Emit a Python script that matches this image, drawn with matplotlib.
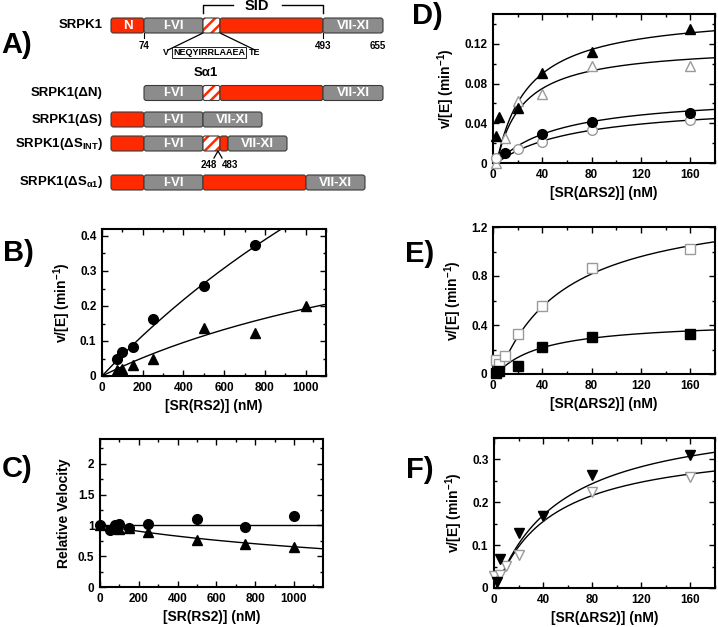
import matplotlib.pyplot as plt
import numpy as np
from matplotlib.patches import FancyBboxPatch
from matplotlib.ticker import MultipleLocator, FuncFormatter

plt.rcParams['font.family'] = ['Liberation Sans', 'DejaVu Sans']
plt.rcParams['font.weight'] = 'bold'
plt.rcParams['axes.labelweight'] = 'bold'
plt.rcParams['mathtext.fontset'] = 'custom'
plt.rcParams['mathtext.rm'] = 'Liberation Sans:bold'
plt.rcParams['mathtext.it'] = 'Liberation Sans:bold'
plt.rcParams['mathtext.bf'] = 'Liberation Sans:bold'
plt.rcParams['hatch.linewidth'] = 1.8

RED = '#ff2a00'
GRAY = '#8c8c8c'
EDGE = '#3a3a3a'
OPEN = '#9a9a9a'

# ---------------- data ----------------
# panel A: constructs and their domain segments (kind, schematic width, label)
constructs = ['SRPK1', 'SRPK1(ΔN)', 'SRPK1(ΔS)',
              'SRPK1(ΔS$_{INT}$)', 'SRPK1(ΔS$_{α1}$)']
construct_segments = [
    [('red', 33, 'N'), ('gray', 59, 'I-VI'), ('hatch', 17, ''), ('red', 103, ''), ('gray', 60, 'VII-XI')],
    [('gray', 59, 'I-VI'), ('hatch', 17, ''), ('red', 103, ''), ('gray', 60, 'VII-XI')],
    [('red', 33, ''), ('gray', 59, 'I-VI'), ('gray', 59, 'VII-XI')],
    [('red', 33, ''), ('gray', 59, 'I-VI'), ('hatch', 17, ''), ('red', 8, ''), ('gray', 59, 'VII-XI')],
    [('red', 33, ''), ('gray', 59, 'I-VI'), ('red', 103, ''), ('gray', 59, 'VII-XI')],
]
residue_marks = ['74', '493', '655']
int_marks = ['248', '483']
helix_seq = 'NEQYIRRLAAEA'

# panel B: v/[E] vs [SR(RS2)]
b_circ_x = [75, 100, 150, 250, 500, 750]
b_circ_y = [0.050, 0.068, 0.083, 0.162, 0.258, 0.375]
b_tri_x = [75, 100, 150, 250, 500, 750, 1000]
b_tri_y = [0.018, 0.020, 0.032, 0.048, 0.138, 0.122, 0.200]
b_fit = {'circ': (1.85, 3000.0), 'tri': (0.589, 2060.0)}   # (Vmax, Km)

# panel C: relative velocity
c_circ_x = [0, 50, 75, 100, 150, 250, 500, 750, 1000]
c_circ_y = [1.00, 0.93, 1.00, 1.02, 0.95, 1.02, 1.10, 0.97, 1.15]
c_tri_x = [0, 75, 100, 150, 250, 500, 750, 1000]
c_tri_y = [1.00, 0.95, 0.94, 0.95, 0.89, 0.77, 0.69, 0.65]
c_ki = 1876.0

# panels D-F: v/[E] vs [SR(dRS2)]
d_ftri_x = [2.5, 5, 20, 40, 80, 160]
d_ftri_y = [0.027, 0.046, 0.055, 0.091, 0.112, 0.135]
d_otri_x = [2.5, 10, 20, 40, 80, 160]
d_otri_y = [0.000, 0.025, 0.062, 0.069, 0.098, 0.098]
d_fcir_x = [10, 40, 80, 160]
d_fcir_y = [0.010, 0.029, 0.041, 0.050]
d_ocir_x = [2.5, 20, 40, 80, 160]
d_ocir_y = [0.005, 0.014, 0.021, 0.033, 0.043]
d_fits = [(0.1525, 25.7, 3), (0.119, 21.7, 3), (0.0699, 52.2, 3), (0.0614, 66.2, 3)]

e_osq_x = [2.5, 5, 10, 20, 40, 80, 160]
e_osq_y = [0.114, 0.082, 0.147, 0.327, 0.558, 0.868, 1.018]
e_fsq_x = [2.5, 5, 20, 40, 80, 160]
e_fsq_y = [0.012, 0.027, 0.068, 0.223, 0.305, 0.327]
e_fits = [(1.422, 55.5, 5), (0.438, 38.4, 3)]

f_fdn_x = [2.5, 5, 20, 40, 80, 160]
f_fdn_y = [0.013, 0.067, 0.128, 0.167, 0.264, 0.311]
f_odn_x = [0, 5, 10, 20, 40, 80, 160]
f_odn_y = [0.027, 0.031, 0.051, 0.078, 0.167, 0.225, 0.260]
f_fits = [(0.414, 54.6, 2), (0.344, 46.3, 2)]

W, H = 718, 627
fig = plt.figure(figsize=(W / 100, H / 100), dpi=100)

# ---------------- panel A ----------------
axa = fig.add_axes([0, 1 - 200 / H, 400 / W, 200 / H])
axa.set_xlim(0, 400)
axa.set_ylim(200, 0)
axa.axis('off')

row_start = [111, 144, 111, 111, 111]
row_y = [25.5, 93, 119.5, 143.5, 182.5]
bar_h = 15
edges = []
for name, segs, x0, yc in zip(constructs, construct_segments, row_start, row_y):
    axa.text(103, yc, name, ha='right', va='center', fontsize=9.5)
    x = x0
    row_edges = [x]
    for kind, w, lab in segs:
        if kind == 'hatch':
            axa.add_patch(FancyBboxPatch((x, yc - bar_h / 2), w, bar_h,
                                         boxstyle='round,pad=0,rounding_size=2',
                                         fc='white', ec=RED, lw=0, hatch='///'))
            axa.add_patch(FancyBboxPatch((x, yc - bar_h / 2), w, bar_h,
                                         boxstyle='round,pad=0,rounding_size=2',
                                         fc='none', ec=EDGE, lw=0.8))
        else:
            axa.add_patch(FancyBboxPatch((x, yc - bar_h / 2), w, bar_h,
                                         boxstyle='round,pad=0,rounding_size=2.5',
                                         fc=RED if kind == 'red' else GRAY, ec=EDGE, lw=0.8))
        if lab:
            axa.text(x + w / 2, yc + 0.5, lab, ha='center', va='center',
                     color='white', fontsize=9.5)
        x += w
        row_edges.append(x)
    edges.append(row_edges)

# residue numbers under full-length SRPK1
top = edges[0]
ybot = row_y[0] + bar_h / 2
for xm, lab in zip([top[1], top[4], top[5] - 5], residue_marks):
    if lab != '655':
        axa.plot([xm, xm], [ybot, ybot + 5], color='black', lw=0.8)
    axa.text(xm, ybot + 13, lab, ha='center', va='center', fontsize=7)

# SID bracket
axa.plot([top[2], top[2], top[2] + 30], [13, 5, 5], color='black', lw=1)
axa.plot([top[4] - 41, top[4], top[4]], [5, 5, 13], color='black', lw=1)
axa.text((top[2] + top[4]) / 2 - 6, 5.5, 'SID', ha='center', va='center', fontsize=10.5)

# helix zoom lines and sequence
axa.plot([top[2], 168], [ybot, 50], color='black', lw=0.9)
axa.plot([top[3], 255], [ybot, 50], color='black', lw=0.9)
axa.text(169, 52.5, 'V', ha='right', va='center', fontsize=6.5)
axa.text(209, 52.5, helix_seq, ha='center', va='center', fontsize=6.5,
         bbox=dict(boxstyle='square,pad=0.15', fc='white', ec='black', lw=0.6))
axa.text(249, 52.5, 'TE', ha='left', va='center', fontsize=6.5)
axa.text(206, 73, 'Sα1', ha='center', va='center', fontsize=9.5)

# internal deletion junction in SRPK1(dS_INT)
ej = edges[3][3] - 2
yb = row_y[3] + bar_h / 2
axa.plot([ej - 4, ej, ej + 4], [yb + 7, yb, yb + 7], color='black', lw=0.9)
axa.text(209, 165, int_marks[0], ha='center', va='center', fontsize=7)
axa.text(230, 165, int_marks[1], ha='center', va='center', fontsize=7)


# ---------------- kinetic panels ----------------
def fmt(v, p):
    return '%g' % round(v, 4)


def kin_axes(rect, xlim, ylim, xmaj, xmin, ymaj, ymin, xlabel, ylabel):
    l, t, r, b = rect
    ax = fig.add_axes([l / W, 1 - b / H, (r - l) / W, (b - t) / H])
    ax.set_xlim(*xlim)
    ax.set_ylim(*ylim)
    ax.xaxis.set_major_locator(MultipleLocator(xmaj))
    ax.xaxis.set_minor_locator(MultipleLocator(xmin))
    ax.yaxis.set_major_locator(MultipleLocator(ymaj))
    ax.yaxis.set_minor_locator(MultipleLocator(ymin))
    ax.xaxis.set_major_formatter(FuncFormatter(fmt))
    ax.yaxis.set_major_formatter(FuncFormatter(fmt))
    ax.tick_params(which='both', direction='in', top=True, right=True, width=1)
    ax.tick_params(which='major', length=4.5, labelsize=8.5, pad=4)
    ax.tick_params(which='minor', length=2.5)
    for s in ax.spines.values():
        s.set_linewidth(1.5)
    ax.set_xlabel(xlabel, fontsize=10, labelpad=4)
    ax.set_ylabel(ylabel, fontsize=10, labelpad=5)
    return ax


def pts(ax, x, y, marker, filled, ms=7):
    if filled:
        ax.plot(x, y, ls='none', marker=marker, ms=ms, mfc='black', mec='black',
                zorder=3, clip_on=False)
    else:
        ax.plot(x, y, ls='none', marker=marker, ms=ms, mfc='white', mec=OPEN,
                mew=1, zorder=3, clip_on=False)


def mm_curve(ax, vmax, km, s0, xmax):
    s = np.linspace(s0, xmax, 300)
    ax.plot(s, vmax * (s - s0) / (km + s - s0), color='black', lw=1, zorder=2)


vlabel = 'v/[E] (min$^{-1}$)'

# B
axb = kin_axes((102, 229, 326, 376), (0, 1100), (0, 0.42), 200, 100, 0.1, 0.05,
               '[SR(RS2)] (nM)', vlabel)
for vmax, km in b_fit.values():
    mm_curve(axb, vmax, km, 0, 1100)
pts(axb, b_circ_x, b_circ_y, 'o', True)
pts(axb, b_tri_x, b_tri_y, '^', True)

# C
axc = kin_axes((100, 439, 323, 587), (0, 1150), (0, 2.4), 200, 100, 0.5, 0.25,
               '[SR(RS2)] (nM)', 'Relative Velocity')
sc = np.linspace(0, 1150, 300)
axc.plot([0, 1150], [1, 1], color='black', lw=1, zorder=2)
axc.plot(sc, 1 / (1 + sc / c_ki), color='black', lw=1, zorder=2)
pts(axc, c_tri_x, c_tri_y, '^', True)
pts(axc, c_circ_x, c_circ_y, 'o', True)

# D
axd = kin_axes((493, 14, 715, 163), (0, 180), (0, 0.15), 40, 20, 0.04, 0.02,
               '[SR(ΔRS2)] (nM)', vlabel)
for vmax, km, s0 in d_fits:
    mm_curve(axd, vmax, km, s0, 180)
pts(axd, d_otri_x, d_otri_y, '^', False)
pts(axd, d_ocir_x, d_ocir_y, 'o', False)
pts(axd, d_ftri_x, d_ftri_y, '^', True)
pts(axd, d_fcir_x, d_fcir_y, 'o', True)

# E
axe = kin_axes((493, 227, 715, 374), (0, 180), (0, 1.2), 40, 20, 0.4, 0.2,
               '[SR(ΔRS2)] (nM)', vlabel)
for vmax, km, s0 in e_fits:
    mm_curve(axe, vmax, km, s0, 180)
pts(axe, e_osq_x, e_osq_y, 's', False)
pts(axe, e_fsq_x, e_fsq_y, 's', True)

# F
axf = kin_axes((494, 438, 715, 588), (0, 180), (0, 0.35), 40, 20, 0.1, 0.05,
               '[SR(ΔRS2)] (nM)', vlabel)
for vmax, km, s0 in f_fits:
    mm_curve(axf, vmax, km, s0, 180)
pts(axf, f_odn_x, f_odn_y, 'v', False)
pts(axf, f_fdn_x, f_fdn_y, 'v', True)

# panel letters
for lab, (px, py) in zip(['A)', 'B)', 'C)', 'D)', 'E)', 'F)'],
                         [(17, 45), (18, 253), (17, 469), (427, 16), (420, 254), (420, 470)]):
    fig.text(px / W, 1 - py / H, lab, ha='center', va='center', fontsize=21)

fig.savefig('out.png', dpi=100)
